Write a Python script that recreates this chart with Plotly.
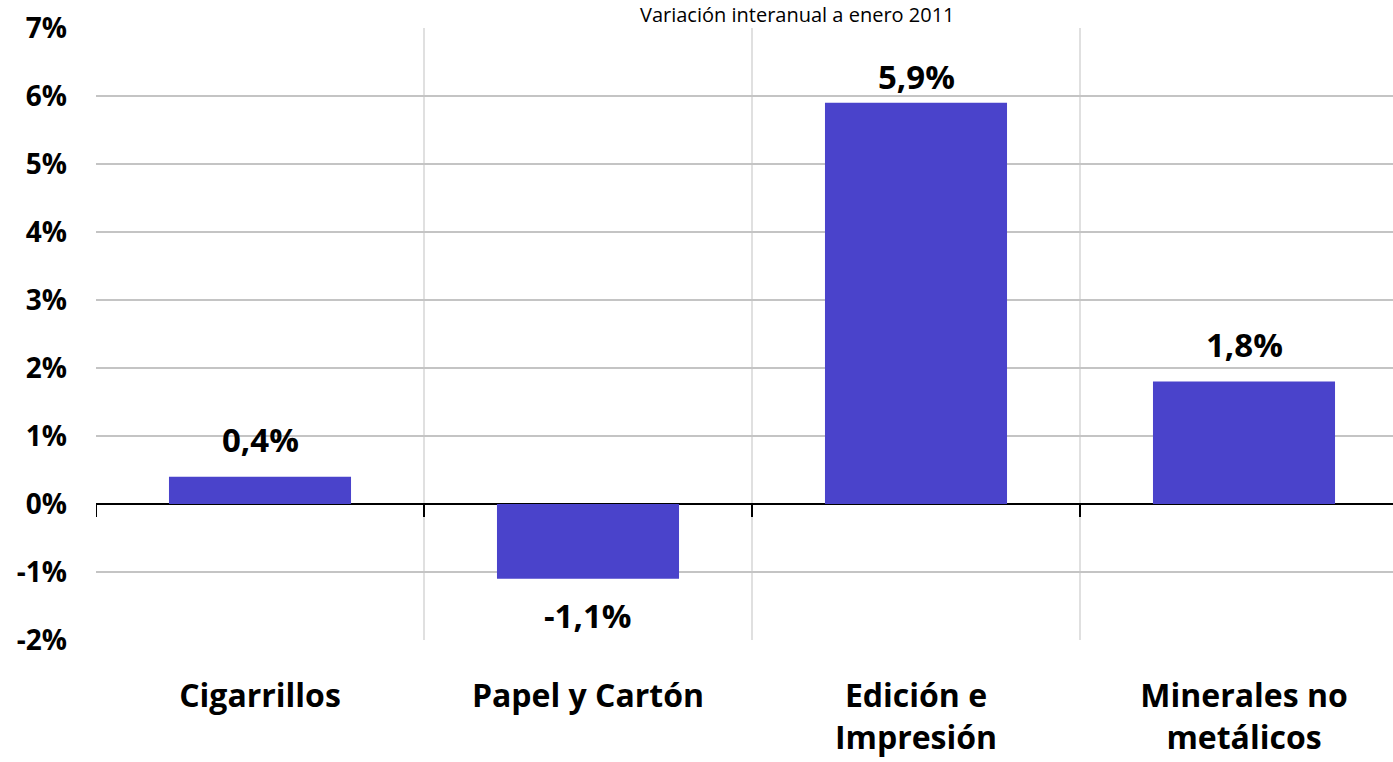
import plotly.graph_objects as go

categories = ["Cigarrillos", "Papel y Cartón", "Edición e<br>Impresión", "Minerales no<br>metálicos"]
values = [0.4, -1.1, 5.9, 1.8]
value_labels = ["0,4%", "-1,1%", "5,9%", "1,8%"]
y_tickvals = [-2, -1, 0, 1, 2, 3, 4, 5, 6, 7]
y_ticktext = ["-2%", "-1%", "0%", "1%", "2%", "3%", "4%", "5%", "6%", "7%"]
title_text = "Variación interanual a enero 2011"

FONT = "Open Sans"
BAR_COLOR = "#4a43cb"

cat_labels = [f"<b>{c}</b>" for c in categories]

fig = go.Figure()
fig.add_trace(go.Bar(
    x=cat_labels, y=values, width=0.555,
    marker=dict(color=BAR_COLOR, line=dict(width=0)),
    hoverinfo="skip",
))

# value labels
shifts = [37 if v >= 0 else -37 for v in values]
shifts[2] = 26
for xi, v, lab, s in zip(range(len(values)), values, value_labels, shifts):
    fig.add_annotation(x=xi, y=v, text=f"<b>{lab}</b>", showarrow=False,
                       yshift=s, font=dict(family=FONT, size=33, color="black"))

# tick marks below zero line at category boundaries
for b in [i - 0.5 for i in range(len(categories))]:
    fig.add_shape(type="line", xref="x", yref="y", x0=b, x1=b, y0=0, y1=-0.19,
                  line=dict(color="black", width=2))

# title at top
fig.add_annotation(xref="paper", yref="paper", x=0.541, y=1, xanchor="center",
                   yanchor="bottom", yshift=-2, text=title_text, showarrow=False,
                   font=dict(family=FONT, size=20, color="black"))

fig.update_layout(
    width=1393, height=762,
    margin=dict(l=96, r=0, t=28, b=122),
    paper_bgcolor="white", plot_bgcolor="white",
    showlegend=False,
    font=dict(family=FONT, color="black"),
)
fig.update_xaxes(
    type="category",
    range=[-0.5, -0.5 + 1297 / 328],
    tickson="boundaries", showgrid=True, gridcolor="#e0e0e0", gridwidth=1.5,
    ticks="", showline=False, zeroline=False,
    tickfont=dict(family=FONT, size=32, color="black"),
    ticklabelstandoff=34,
)
fig.update_yaxes(
    range=[-2, 7], tickvals=y_tickvals, ticktext=[f"<b>{t}</b>" for t in y_ticktext],
    showgrid=True, gridcolor="#c4c4c4", gridwidth=2,
    zeroline=True, zerolinecolor="black", zerolinewidth=2,
    showline=False, ticks="",
    tickfont=dict(family=FONT, size=28, color="black"),
    ticklabelstandoff=28,
)

fig.write_html("out.html")
